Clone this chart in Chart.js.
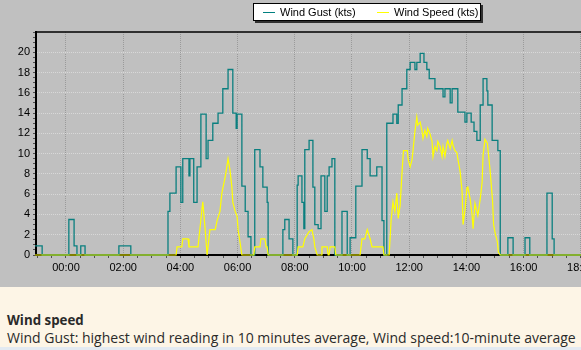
<!DOCTYPE html>
<html>
<head>
<meta charset="utf-8">
<script src="https://cdn.jsdelivr.net/npm/chart.js@4.4.1/dist/chart.umd.min.js"></script>
<style>
  html, body { margin: 0; padding: 0; }
  body { width: 581px; height: 350px; overflow: hidden; background: #fdf5e6; position: relative; }
  #top { position: absolute; left: 0; top: 0; width: 581px; height: 287px; background: #c0c0c0; overflow: hidden; }
  #c { position: absolute; left: 0; top: 0; }
  #legend { position: absolute; left: 253px; top: 3px; width: 226px; height: 16px; background: #fff;
            border: 1px solid #000; box-shadow: 2px 2px 0 #303030; font: 11px "Liberation Sans", Arial, sans-serif; color: #000; }
  #legend .item { position: absolute; top: 1px; line-height: 14px; white-space: nowrap; }
  #legend .sw { display: inline-block; width: 12px; height: 0; vertical-align: middle; margin-right: 5px; border-top: 1px solid; position: relative; top: -1px; }
  #caption { position: absolute; left: 7px; top: 311px; font-family: "Open Sans", sans-serif; color: #2a2a2a; white-space: nowrap; }
  #caption .t { font-weight: bold; font-size: 13.3px; line-height: 18px; }
  #caption .d { font-size: 14px; line-height: 18px; }
  #strip { position: absolute; left: 0; top: 347px; width: 581px; height: 3px; background: #e3eaf1; }
</style>
</head>
<body>
<div id="top">
  <canvas id="c" width="650" height="287"></canvas>
  <div id="legend">
    <span class="item" style="left:9px"><span class="sw" style="border-color:#008080"></span>Wind Gust (kts)</span>
    <span class="item" style="left:123px"><span class="sw" style="border-color:#ffff00"></span>Wind Speed (kts)</span>
  </div>
</div>
<div id="caption">
  <div class="t">Wind speed</div>
  <div class="d">Wind Gust: highest wind reading in 10 minutes average, Wind speed:10-minute average</div>
</div>
<div id="strip"></div>
<script>
// ---- data (times HH:MM, 22:xx/23:xx belong to the previous day) ----
const seriesNames = ["Wind Gust (kts)", "Wind Speed (kts)"];

const gustTimes = ["22:55","23:10","00:06","00:17","00:23","00:31","00:40","01:51","02:16",
  "03:34","03:38","03:51","04:01","04:05","04:18","04:20","04:28","04:35","04:43","04:54","04:58",
  "05:08","05:19","05:29","05:40","05:50","05:57","05:59","06:09","06:16","06:22","06:28","06:36",
  "06:47","06:53","07:02","07:04","07:35","07:39","07:48","07:56","08:05","08:07","08:15","08:19",
  "08:21","08:30","08:38","08:42","08:49","08:55","09:03","09:08","09:12","09:18","09:24","09:39",
  "09:50","09:56","10:08","10:21","10:32","10:38","10:52","11:03","11:07","11:13","11:26","11:34",
  "11:37","11:45","11:55","12:02","12:12","12:16","12:23","12:31","12:37","12:42","12:54","13:11",
  "13:15","13:26","13:30","13:42","13:57","14:01","14:10","14:16","14:22","14:29","14:35","14:43",
  "14:45","14:54","15:06","15:11","15:27","15:38","16:03","16:13","16:49","17:00","17:04","19:55"];
const gustValues = [0.9,0,3.5,0.9,0,0.9,0,0.9,0,
  4.3,6.1,8.7,5.2,9.5,7.8,9.5,5.2,8.7,13.9,9.5,11.3,
  13.0,14.0,16.4,18.3,14.0,12.5,13.9,6.8,4.3,1.8,0,10.4,
  8.7,6.7,5.2,0,2.5,3.5,1.6,0,6.9,7.8,5.2,2.6,
  10.4,11.3,6.7,3.0,2.6,7.8,4.3,7.8,8.7,9.5,0,4.3,
  0,1.7,6.8,10.4,9.5,7.8,8.7,3.4,0,13.0,13.9,13.0,
  14.8,16.4,18.3,19.0,18.3,19.0,19.9,19.0,18.3,17.4,16.4,15.6,
  16.4,15.0,16.4,14.1,13.1,14.0,13.1,12.2,11.3,14.8,17.4,16.2,
  14.8,11.3,10.3,0,1.7,0,1.7,0,6.1,1.6,0,0];

const speedTimes = ["22:55","03:51","03:53","04:03","04:05","04:16","04:18","04:37","04:47","04:52",
  "04:56","05:02","05:13","05:17","05:23","05:27","05:34","05:40","05:44","05:48","05:50","05:55",
  "05:59","06:01","06:05","06:09","06:34","06:36","06:47","06:49","06:57","07:00","07:02","07:04",
  "08:05","08:07","08:17","08:21","08:30","08:36","08:40","08:42","08:47","08:55","08:57","09:08",
  "09:10","09:12","09:14","09:24","09:26","10:17","10:21","10:27","10:32","10:38","10:42","11:05",
  "11:07","11:18","11:22","11:26","11:30","11:34","11:37","11:41","11:45","11:48","11:56","11:58",
  "12:02","12:06","12:08","12:12","12:16","12:18","12:23","12:27","12:29","12:33","12:37","12:39",
  "12:44","12:48","12:50","12:54","12:58","13:00","13:05","13:09","13:11","13:15","13:19","13:21",
  "13:26","13:30","13:32","13:36","13:40","13:42","13:47","13:51","13:53","13:57","14:01","14:03",
  "14:08","14:12","14:14","14:18","14:22","14:24","14:29","14:33","14:35","14:39","14:44","14:46",
  "14:50","14:55","14:57","15:01","15:05","15:07","15:11","19:55"];
const speedValues = [0,0,0.8,0.8,1.6,1.6,0.8,0.8,5.25,2.5,
  0,2.5,2.5,3.4,4.3,6.1,7.7,9.5,8.4,6.7,5.2,4.3,
  3.8,2.5,1.3,0,0,0.8,0.8,1.6,1.6,0.8,0.8,0,
  0,0.8,0.8,1.6,2.3,2.5,1.6,0.8,0,0,0.8,0.8,
  0,0,0.8,0.8,0,0,1.6,1.6,2.5,1.6,0.8,0.8,
  0,0,3.4,5.25,4.3,6.1,3.6,4.9,8.2,10.3,10.3,9.4,
  8.7,9.4,10.3,12.2,13.6,12.8,13.1,12.2,11.5,12.3,11.7,12.5,
  11.9,11.2,9.7,10.7,10.3,11.2,10.7,9.7,10.7,9.7,11.0,11.3,
  10.5,11.3,10.8,10.3,10.1,9.5,8.2,6.2,3.0,4.4,6.6,6.7,
  5.5,3.9,2.6,5.1,4.3,3.9,5.5,7.2,9.85,11.4,11.0,10.1,
  8.2,5.25,3.0,2.0,1.3,0.3,0,0];

const xLabelEvery = 120;   // minutes between time labels
const xMinorEvery = 30;    // minutes between minor ticks
const yLabelEvery = 2;
const yMinorEvery = 0.5;
const xMinMin = -62.9, xMaxMin = 1195.8;
const yMin = 0, yMax = 22;

// ---- helpers ----
function toMin(s) {
  const [h, m] = s.split(":").map(Number);
  let v = h * 60 + m;
  if (h >= 21) v -= 1440;
  return v;
}
function pts(times, vals) { return times.map((t, i) => ({ x: toMin(t), y: vals[i] })); }
function fmt(v) { const h = Math.round(v / 60); return (h < 10 ? "0" : "") + h + ":00"; }
function range(a, b, step) { const r = []; for (let v = a; v <= b + 1e-9; v += step) r.push(Math.round(v * 1000) / 1000); return r; }

const topBorder = {
  id: "topBorder",
  beforeDatasetsDraw(chart) {
    const { ctx, chartArea } = chart;
    ctx.save();
    ctx.strokeStyle = "#000";
    ctx.lineWidth = 1.5;
    ctx.beginPath();
    ctx.moveTo(chartArea.left, chartArea.top);
    ctx.lineTo(chartArea.right, chartArea.top);
    ctx.stroke();
    ctx.restore();
  }
};

new Chart(document.getElementById("c"), {
  type: "line",
  data: {
    datasets: [
      { label: seriesNames[0], data: pts(gustTimes, gustValues), borderColor: "#0a7f7f", borderWidth: 1.3,
        stepped: true, pointRadius: 0, order: 2, clip: 3 },
      { label: seriesNames[1], data: pts(speedTimes, speedValues), borderColor: "#ffff00", borderWidth: 1.2,
        pointRadius: 0, order: 1, clip: 3, tension: 0 }
    ]
  },
  options: {
    responsive: false,
    devicePixelRatio: 1,
    animation: false,
    events: [],
    layout: { padding: { top: 32, right: 14, left: 0, bottom: 0 } },
    plugins: { legend: { display: false }, tooltip: { enabled: false } },
    scales: {
      x: {
        type: "linear", min: xMinMin, max: xMaxMin,
        afterFit(s) { s.height = 32; },
        afterBuildTicks(s) { s.ticks = range(-60, xMaxMin, xMinorEvery).map(v => ({ value: v })); },
        ticks: { autoSkip: false, maxRotation: 0, padding: 3, color: "#000",
          font: { family: "'Liberation Sans', Arial, sans-serif", size: 11 },
          callback: (v) => (v >= 0 && v % xLabelEvery === 0) ? fmt(v) : "" },
        grid: { lineWidth: 1, tickLength: 3, tickColor: "#505050",
          color: (c) => (c.tick && c.tick.value % xLabelEvery === 0) ? "#9a9a9a" : "rgba(0,0,0,0)" },
        border: { color: "#000", width: 2, dash: [1, 1] }
      },
      y: {
        min: yMin, max: yMax,
        afterFit(s) { s.width = 36; },
        afterBuildTicks(s) { s.ticks = range(yMin, yMax, yMinorEvery).map(v => ({ value: v })); },
        ticks: { autoSkip: false, padding: 3, color: "#000",
          font: { family: "'Liberation Sans', Arial, sans-serif", size: 11 },
          callback: (v) => (v % yLabelEvery === 0 && v < yMax) ? String(v) : "" },
        grid: { lineWidth: 1, tickLength: 3, tickColor: "#505050",
          color: (c) => (c.tick && c.tick.value % yLabelEvery === 0 && c.tick.value > 0 && c.tick.value < yMax) ? "#d8d8d8" : "rgba(0,0,0,0)" },
        border: { color: "#000", width: 2, dash: [1, 1] }
      }
    }
  },
  plugins: [topBorder]
});
</script>
</body>
</html>
